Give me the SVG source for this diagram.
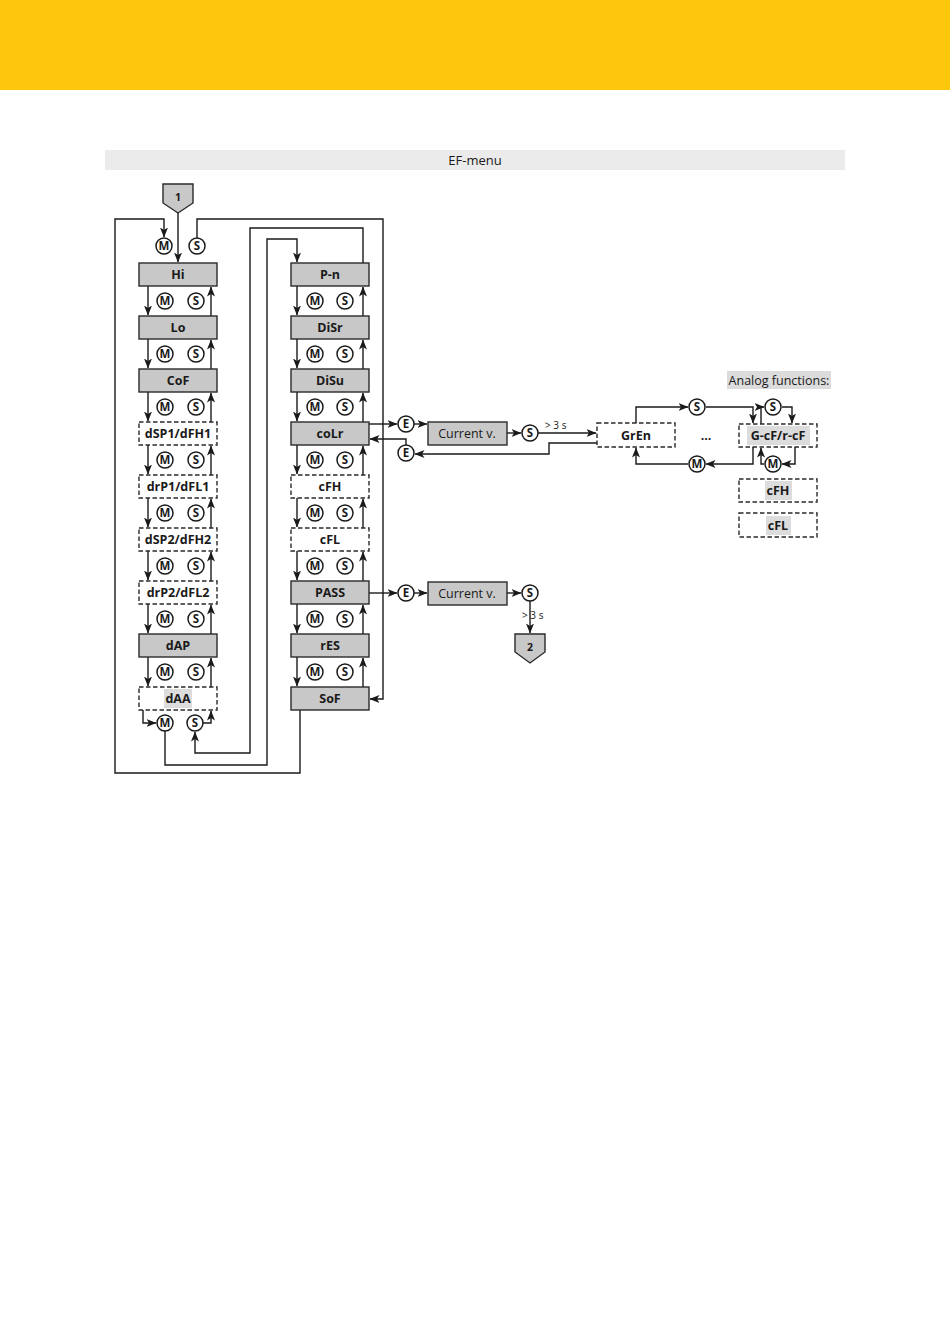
<svg xmlns="http://www.w3.org/2000/svg" width="950" height="1344" viewBox="0 0 950 1344">
<defs>
<marker id="a" markerWidth="10" markerHeight="8" refX="9.5" refY="4" orient="auto" markerUnits="userSpaceOnUse"><path d="M0,0 L10,4 L0,8 L2.5,4 z" fill="#1a1a1a"/></marker>
<style>
.bx{fill:#c8c8c8;stroke:#2a2a2a;stroke-width:1.4}
.bd{fill:#fff;stroke:#2a2a2a;stroke-width:1.4;stroke-dasharray:4.5,2.5}
.t{font-family:"Open Sans","Noto Sans",sans-serif;font-weight:bold;font-size:12.5px;fill:#1a1a1a;text-anchor:middle}
.r{font-family:"Open Sans","Noto Sans",sans-serif;font-size:12.5px;fill:#1a1a1a;text-anchor:middle}
.c{fill:#fff;stroke:#1a1a1a;stroke-width:1.5}
.ct{font-family:"Open Sans","Noto Sans",sans-serif;font-weight:bold;font-size:11.5px;fill:#1a1a1a;text-anchor:middle}
.l{fill:none;stroke:#1a1a1a;stroke-width:1.4}
.la{fill:none;stroke:#1a1a1a;stroke-width:1.4;marker-end:url(#a)}
.hl{fill:#dcdcdc}
.sm{font-family:"Open Sans","Noto Sans",sans-serif;font-size:10px;fill:#1a1a1a}
</style>
</defs>
<rect x="0" y="0" width="950" height="90" fill="#fdc70c"/>
<rect x="105" y="150" width="740" height="20" fill="#ebebeb"/>
<text x="475" y="165" class="r" style="font-size:13px">EF-menu</text>

<g id="connectors">
<line class="la" x1="178" y1="213" x2="178" y2="262"/>
<path class="la" d="M300,710 V773 H115 V219 H164 V237"/>
<path class="la" d="M197,238 V219 H383 V699 H370"/>
<path class="la" d="M363,263 V228 H250 V753 H195 V732"/>
<path class="la" d="M165,731 V765 H267 V239 H297 V262"/>
<path class="la" d="M143,710 V723 H156"/>
<path class="la" d="M203,723 H211 V711"/>
<!-- left column -->
<line class="la" x1="148" y1="286" x2="148" y2="315"/><line class="la" x1="211" y1="316" x2="211" y2="287"/>
<line class="la" x1="148" y1="339" x2="148" y2="368"/><line class="la" x1="211" y1="369" x2="211" y2="340"/>
<line class="la" x1="148" y1="392" x2="148" y2="421"/><line class="la" x1="211" y1="422" x2="211" y2="393"/>
<line class="la" x1="148" y1="445" x2="148" y2="474"/><line class="la" x1="211" y1="475" x2="211" y2="446"/>
<line class="la" x1="148" y1="498" x2="148" y2="527"/><line class="la" x1="211" y1="528" x2="211" y2="499"/>
<line class="la" x1="148" y1="551" x2="148" y2="580"/><line class="la" x1="211" y1="581" x2="211" y2="552"/>
<line class="la" x1="148" y1="604" x2="148" y2="633"/><line class="la" x1="211" y1="634" x2="211" y2="605"/>
<line class="la" x1="148" y1="657" x2="148" y2="686"/><line class="la" x1="211" y1="687" x2="211" y2="658"/>
<!-- middle column -->
<line class="la" x1="297" y1="286" x2="297" y2="315"/><line class="la" x1="363" y1="316" x2="363" y2="287"/>
<line class="la" x1="297" y1="339" x2="297" y2="368"/><line class="la" x1="363" y1="369" x2="363" y2="340"/>
<line class="la" x1="297" y1="392" x2="297" y2="421"/><line class="la" x1="363" y1="422" x2="363" y2="393"/>
<line class="la" x1="297" y1="445" x2="297" y2="474"/><line class="la" x1="363" y1="475" x2="363" y2="446"/>
<line class="la" x1="297" y1="498" x2="297" y2="527"/><line class="la" x1="363" y1="528" x2="363" y2="499"/>
<line class="la" x1="297" y1="551" x2="297" y2="580"/><line class="la" x1="363" y1="581" x2="363" y2="552"/>
<line class="la" x1="297" y1="604" x2="297" y2="633"/><line class="la" x1="363" y1="634" x2="363" y2="605"/>
<line class="la" x1="297" y1="657" x2="297" y2="686"/><line class="la" x1="363" y1="687" x2="363" y2="658"/>
<!-- coLr branch -->
<line class="la" x1="369" y1="424" x2="397" y2="424"/>
<line class="la" x1="414" y1="424" x2="427" y2="424"/>
<line class="la" x1="507" y1="433" x2="521" y2="433"/>
<line class="la" x1="538" y1="433" x2="596" y2="433"/>
<path class="la" d="M597,443 H549 V454 H415"/>
<path class="la" d="M406,445 V439 H370"/>
<!-- GrEn / G-cF loops -->
<path class="la" d="M636,423 V407 H688"/>
<path class="la" d="M706,407 H753 V423"/>
<path class="la" d="M761,424 V407 H764"/>
<path class="la" d="M782,407 H792 V423"/>
<path class="la" d="M753,447 V464 H706"/>
<path class="la" d="M688,464 H636 V448"/>
<path class="la" d="M795,447 V464 H782"/>
<path class="la" d="M764,464 H761 V448"/>
<!-- PASS branch -->
<line class="la" x1="369" y1="593" x2="397" y2="593"/>
<line class="la" x1="414" y1="593" x2="427" y2="593"/>
<line class="la" x1="507" y1="593" x2="521" y2="593"/>
<line class="la" x1="530" y1="601" x2="530" y2="633"/>
</g>

<g id="start1"><polygon points="163,184 193,184 193,203 178,213 163,203" class="bx"/><text x="178" y="201" class="ct" style="font-size:10.5px">1</text></g>
<g id="end2"><polygon points="515,634 545,634 545,652 530,663 515,652" class="bx"/><text x="530" y="651" class="ct" style="font-size:10.5px">2</text></g>

<g id="Hi"><rect x="139" y="263" width="78" height="23" class="bx"/><text x="178" y="279" class="t">Hi</text></g>
<g id="Lo"><rect x="139" y="316" width="78" height="23" class="bx"/><text x="178" y="332" class="t">Lo</text></g>
<g id="CoF"><rect x="139" y="369" width="78" height="23" class="bx"/><text x="178" y="385" class="t">CoF</text></g>
<g id="dSP1"><rect x="139" y="422" width="78" height="23" class="bd"/><text x="178" y="438" class="t">dSP1/dFH1</text></g>
<g id="drP1"><rect x="139" y="475" width="78" height="23" class="bd"/><text x="178" y="491" class="t">drP1/dFL1</text></g>
<g id="dSP2"><rect x="139" y="528" width="78" height="23" class="bd"/><text x="178" y="544" class="t">dSP2/dFH2</text></g>
<g id="drP2"><rect x="139" y="581" width="78" height="23" class="bd"/><text x="178" y="597" class="t">drP2/dFL2</text></g>
<g id="dAP"><rect x="139" y="634" width="78" height="23" class="bx"/><text x="178" y="650" class="t">dAP</text></g>
<g id="dAA"><rect x="139" y="687" width="78" height="23" class="bd"/><rect x="164" y="689" width="28" height="19" class="hl"/><text x="178" y="703" class="t">dAA</text></g>

<g id="Pn"><rect x="291" y="263" width="78" height="23" class="bx"/><text x="330" y="279" class="t">P-n</text></g>
<g id="DiSr"><rect x="291" y="316" width="78" height="23" class="bx"/><text x="330" y="332" class="t">DiSr</text></g>
<g id="DiSu"><rect x="291" y="369" width="78" height="23" class="bx"/><text x="330" y="385" class="t">DiSu</text></g>
<g id="coLr"><rect x="291" y="422" width="78" height="23" class="bx"/><text x="330" y="438" class="t">coLr</text></g>
<g id="cFH"><rect x="291" y="475" width="78" height="23" class="bd"/><text x="330" y="491" class="t">cFH</text></g>
<g id="cFL"><rect x="291" y="528" width="78" height="23" class="bd"/><text x="330" y="544" class="t">cFL</text></g>
<g id="PASS"><rect x="291" y="581" width="78" height="23" class="bx"/><text x="330" y="597" class="t">PASS</text></g>
<g id="rES"><rect x="291" y="634" width="78" height="23" class="bx"/><text x="330" y="650" class="t">rES</text></g>
<g id="SoF"><rect x="291" y="687" width="78" height="23" class="bx"/><text x="330" y="703" class="t">SoF</text></g>

<g id="cur1"><rect x="428" y="422" width="79" height="23" class="bx"/><text x="467" y="438" class="r">Current v.</text></g>
<g id="cur2"><rect x="428" y="582" width="79" height="23" class="bx"/><text x="467" y="598" class="r">Current v.</text></g>
<g id="GrEn"><rect x="597" y="423" width="78" height="24" class="bd"/><text x="636" y="440" class="t">GrEn</text></g>
<text x="706" y="440" class="t">...</text>
<g id="GcF"><rect x="739" y="424" width="78" height="23" class="bd"/><rect x="747" y="426" width="63" height="19" class="hl"/><text x="778" y="440" class="t">G-cF/r-cF</text></g>
<g id="cFH2"><rect x="739" y="479" width="78" height="23" class="bd"/><rect x="765" y="481" width="27" height="19" class="hl"/><text x="778" y="495" class="t">cFH</text></g>
<g id="cFL2"><rect x="739" y="513" width="78" height="24" class="bd"/><rect x="766" y="516" width="25" height="19" class="hl"/><text x="778" y="530" class="t">cFL</text></g>
<g id="analog"><rect x="727" y="371" width="104" height="18" class="hl"/><text x="779" y="385" class="r">Analog functions:</text></g>
<text x="545" y="429" class="sm">&gt; 3 s</text>
<text x="522" y="619" class="sm">&gt; 3 s</text>

<g id="circles">
<circle cx="164" cy="246" r="8" class="c"/><text x="164" y="250" class="ct">M</text>
<circle cx="197" cy="246" r="8" class="c"/><text x="197" y="250" class="ct">S</text>
<circle cx="165" cy="301" r="8" class="c"/><text x="165" y="305" class="ct">M</text><circle cx="196" cy="301" r="8" class="c"/><text x="196" y="305" class="ct">S</text>
<circle cx="165" cy="354" r="8" class="c"/><text x="165" y="358" class="ct">M</text><circle cx="196" cy="354" r="8" class="c"/><text x="196" y="358" class="ct">S</text>
<circle cx="165" cy="407" r="8" class="c"/><text x="165" y="411" class="ct">M</text><circle cx="196" cy="407" r="8" class="c"/><text x="196" y="411" class="ct">S</text>
<circle cx="165" cy="460" r="8" class="c"/><text x="165" y="464" class="ct">M</text><circle cx="196" cy="460" r="8" class="c"/><text x="196" y="464" class="ct">S</text>
<circle cx="165" cy="513" r="8" class="c"/><text x="165" y="517" class="ct">M</text><circle cx="196" cy="513" r="8" class="c"/><text x="196" y="517" class="ct">S</text>
<circle cx="165" cy="566" r="8" class="c"/><text x="165" y="570" class="ct">M</text><circle cx="196" cy="566" r="8" class="c"/><text x="196" y="570" class="ct">S</text>
<circle cx="165" cy="619" r="8" class="c"/><text x="165" y="623" class="ct">M</text><circle cx="196" cy="619" r="8" class="c"/><text x="196" y="623" class="ct">S</text>
<circle cx="165" cy="672" r="8" class="c"/><text x="165" y="676" class="ct">M</text><circle cx="196" cy="672" r="8" class="c"/><text x="196" y="676" class="ct">S</text>
<circle cx="165" cy="723" r="8" class="c"/><text x="165" y="727" class="ct">M</text><circle cx="195" cy="723" r="8" class="c"/><text x="195" y="727" class="ct">S</text>
<circle cx="315" cy="301" r="8" class="c"/><text x="315" y="305" class="ct">M</text><circle cx="345" cy="301" r="8" class="c"/><text x="345" y="305" class="ct">S</text>
<circle cx="315" cy="354" r="8" class="c"/><text x="315" y="358" class="ct">M</text><circle cx="345" cy="354" r="8" class="c"/><text x="345" y="358" class="ct">S</text>
<circle cx="315" cy="407" r="8" class="c"/><text x="315" y="411" class="ct">M</text><circle cx="345" cy="407" r="8" class="c"/><text x="345" y="411" class="ct">S</text>
<circle cx="315" cy="460" r="8" class="c"/><text x="315" y="464" class="ct">M</text><circle cx="345" cy="460" r="8" class="c"/><text x="345" y="464" class="ct">S</text>
<circle cx="315" cy="513" r="8" class="c"/><text x="315" y="517" class="ct">M</text><circle cx="345" cy="513" r="8" class="c"/><text x="345" y="517" class="ct">S</text>
<circle cx="315" cy="566" r="8" class="c"/><text x="315" y="570" class="ct">M</text><circle cx="345" cy="566" r="8" class="c"/><text x="345" y="570" class="ct">S</text>
<circle cx="315" cy="619" r="8" class="c"/><text x="315" y="623" class="ct">M</text><circle cx="345" cy="619" r="8" class="c"/><text x="345" y="623" class="ct">S</text>
<circle cx="315" cy="672" r="8" class="c"/><text x="315" y="676" class="ct">M</text><circle cx="345" cy="672" r="8" class="c"/><text x="345" y="676" class="ct">S</text>
<circle cx="406" cy="424" r="8" class="c"/><text x="406" y="428" class="ct">E</text>
<circle cx="406" cy="453" r="8" class="c"/><text x="406" y="457" class="ct">E</text>
<circle cx="530" cy="433" r="8" class="c"/><text x="530" y="437" class="ct">S</text>
<circle cx="406" cy="593" r="8" class="c"/><text x="406" y="597" class="ct">E</text>
<circle cx="530" cy="593" r="8" class="c"/><text x="530" y="597" class="ct">S</text>
<circle cx="697" cy="407" r="8" class="c"/><text x="697" y="411" class="ct">S</text>
<circle cx="773" cy="407" r="8" class="c"/><text x="773" y="411" class="ct">S</text>
<circle cx="697" cy="464" r="8" class="c"/><text x="697" y="468" class="ct">M</text>
<circle cx="773" cy="464" r="8" class="c"/><text x="773" y="468" class="ct">M</text>
</g>
</svg>
